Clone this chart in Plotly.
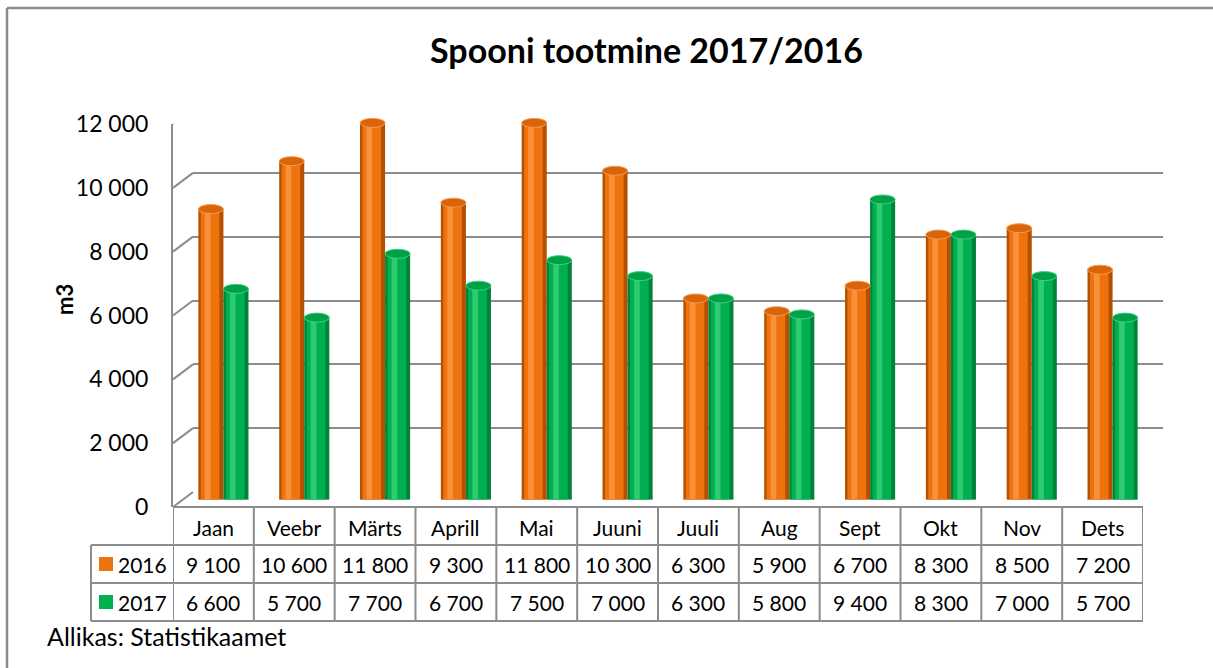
import plotly.graph_objects as go

# ---------------- data ----------------
months = ["Jaan", "Veebr", "Märts", "Aprill", "Mai", "Juuni", "Juuli", "Aug", "Sept", "Okt", "Nov", "Dets"]
series_names = ["2016", "2017"]
values_2016 = [9100, 10600, 11800, 9300, 11800, 10300, 6300, 5900, 6700, 8300, 8500, 7200]
values_2017 = [6600, 5700, 7700, 6700, 7500, 7000, 6300, 5800, 9400, 8300, 7000, 5700]
y_tick_values = [0, 2000, 4000, 6000, 8000, 10000, 12000]
title_text = "Spooni tootmine 2017/2016"
y_title = "m3"
source_text = "Allikas: Statistikaamet"

# ---------------- styling ----------------
W, H = 1213, 668
FONT = "Lato"
GRID = "#8C8C8C"
TXT = "#000000"
styles = {
    "2016": dict(dark="#B45000", main="#EE720E", light="#F8913A", top="#D9640A", rim="#F69A4E"),
    "2017": dict(dark="#00843A", main="#00B050", light="#2FCB70", top="#00A048", rim="#40D07E"),
}


def px(x):
    return x / W


def py(y):
    return 1 - y / H


def fmt(v):
    return f"{v:,}".replace(",", " ")


def note(text, x, y, size, xref="paper", xanchor="center", bold=False, angle=0):
    fig.add_annotation(x=x, y=y, xref=xref, yref="paper", text=f"<b>{text}</b>" if bold else text,
                       xanchor=xanchor, yanchor="middle", textangle=angle, showarrow=False,
                       font=dict(family=FONT, size=size, color=TXT))


n = len(months)
idx = list(range(n))
series = {"2016": values_2016, "2017": values_2017}

fig = go.Figure()

# back wall (grid) subplot x/y, front axis subplot x2/y2, bars subplot x3/y3
fig.add_trace(go.Scatter(x=[None], y=[None], xaxis="x", yaxis="y", showlegend=False, hoverinfo="skip"))
fig.add_trace(go.Scatter(x=[None], y=[None], xaxis="x2", yaxis="y2", showlegend=False, hoverinfo="skip"))

bw = 0.31
offsets = {"2016": -bw, "2017": 0.0}
for name in series_names:
    vals = series[name]
    st = styles[name]
    o = offsets[name]
    layers = [
        (st["dark"], o, bw),
        (st["main"], o + 0.03, bw - 0.08),
        (st["light"], o + 0.08, 0.07),
    ]
    for k, (col, off, wdt) in enumerate(layers):
        fig.add_trace(go.Bar(
            x=idx, y=vals, xaxis="x3", yaxis="y3",
            offset=off, width=wdt,
            marker=dict(color=col, line=dict(width=0)),
            name=name, showlegend=False, hoverinfo="skip" if k else "y",
        ))
    for i, v in zip(idx, vals):
        fig.add_shape(type="circle", xref="x3", yref="y3",
                      x0=i + o, x1=i + o + bw,
                      ysizemode="pixel", yanchor=v, y0=-4.5, y1=4.5,
                      fillcolor=st["top"], line=dict(color=st["rim"], width=1))
        fig.add_shape(type="circle", xref="x3", yref="y3",
                      x0=i + o, x1=i + o + bw,
                      ysizemode="pixel", yanchor=0, y0=-4.5, y1=4.5,
                      fillcolor=st["dark"], line=dict(width=0), layer="below")

# diagonals joining the front axis to the back wall
for v in y_tick_values:
    fig.add_shape(type="line", xref="paper", yref="y2",
                  x0=px(173), x1=px(193),
                  ysizemode="pixel", yanchor=v, y0=0, y1=15,
                  line=dict(color=GRID, width=2))

# floor right edge
fig.add_shape(type="line", xref="x2", yref="paper",
              xsizemode="pixel", xanchor=n - 0.5, x0=0, x1=20,
              y0=py(507), y1=py(492),
              line=dict(color=GRID, width=2))

# ---------------- data table ----------------
row_y = [507, 545, 583, 621]
fig.add_shape(type="line", xref="x2", yref="paper", x0=-0.5, x1=n - 0.5,
              y0=py(row_y[0]), y1=py(row_y[0]), line=dict(color=GRID, width=2))
for ry in row_y[1:]:
    fig.add_shape(type="line", xref="paper", yref="paper", x0=px(91), x1=px(1143),
                  y0=py(ry), y1=py(ry), line=dict(color=GRID, width=2))
fig.add_shape(type="line", xref="paper", yref="paper", x0=px(91), x1=px(91),
              y0=py(row_y[1]), y1=py(row_y[3]), line=dict(color=GRID, width=2))
for i in range(n + 1):
    fig.add_shape(type="line", xref="x2", yref="paper", x0=i - 0.5, x1=i - 0.5,
                  y0=py(row_y[0]), y1=py(row_y[3]), line=dict(color=GRID, width=2))

for i, m in enumerate(months):
    note(m, i, py((row_y[0] + row_y[1]) / 2 + 1), 21, xref="x2")
for r, name in enumerate(series_names):
    ymid = (row_y[r + 1] + row_y[r + 2]) / 2
    for i, v in enumerate(series[name]):
        note(fmt(v), i, py(ymid), 21, xref="x2")
    fig.add_shape(type="rect", xref="paper", yref="paper", x0=px(99), x1=px(113),
                  y0=py(ymid - 7), y1=py(ymid + 7), fillcolor=styles[name]["main"], line=dict(width=0))
    note(name, px(116), py(ymid), 21, xanchor="left")

# outer border (left and top visible)
fig.add_shape(type="line", xref="paper", yref="paper", x0=px(7), x1=px(7), y0=py(8), y1=0,
              line=dict(color=GRID, width=2.5))
fig.add_shape(type="line", xref="paper", yref="paper", x0=px(7), x1=1, y0=py(8), y1=py(8),
              line=dict(color=GRID, width=2.5))

note(title_text, px(646), py(50), 34, bold=True)
note(y_title, px(64), py(300), 22, bold=True, angle=-90)
note(source_text, px(45), py(636), 25, xanchor="left")

fig.update_layout(
    width=W, height=H, autosize=False,
    margin=dict(l=0, r=0, t=0, b=0, pad=0, autoexpand=False),
    paper_bgcolor="white", plot_bgcolor="rgba(0,0,0,0)",
    barmode="overlay", showlegend=False,
    font=dict(family=FONT, size=20, color=TXT),
    xaxis=dict(domain=[px(193), px(1163)], range=[-0.5, n - 0.5], visible=False, anchor="y",
               automargin=False),
    yaxis=dict(domain=[py(492), py(109)], range=[0, 12000], anchor="x",
               tickvals=y_tick_values, showticklabels=False, showgrid=True, automargin=False,
               gridcolor=GRID, gridwidth=2, zeroline=False, showline=False, ticks=""),
    xaxis2=dict(domain=[px(173), px(1143)], range=[-0.5, n - 0.5], visible=False, anchor="y2",
                automargin=False),
    yaxis2=dict(domain=[py(507), py(124)], range=[0, 12000], anchor="x2", automargin=False,
                tickvals=y_tick_values, ticktext=[fmt(v) for v in y_tick_values],
                showgrid=False, zeroline=False, showline=True, linecolor=GRID, linewidth=2,
                ticks="", ticklabelstandoff=18, tickfont=dict(family=FONT, size=23, color=TXT)),
    xaxis3=dict(domain=[px(183), px(1153)], range=[-0.5, n - 0.5], visible=False, anchor="y3",
                automargin=False),
    yaxis3=dict(domain=[py(499.5), py(116.5)], range=[0, 12000], visible=False, anchor="x3",
                automargin=False),
)

fig.write_html("out.html", config={"displayModeBar": False},
               post_script="document.body.style.margin='0';document.body.style.overflow='hidden';")
